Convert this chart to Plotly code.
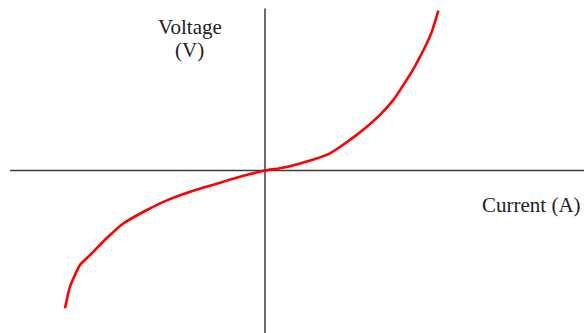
import plotly.graph_objects as go

# Values (arbitrary units; origin at axes crossing)
current = [-10.0, -9.75, -9.25, -8.75, -7.92, -7.09, -5.95, -4.88, -3.59, -2.25,
           -0.75, 0.0, 0.75, 1.67, 3.25, 4.25, 5.0, 5.75, 6.42, 6.92, 7.34,
           7.67, 8.09, 8.34, 8.67]
voltage = [-6.89, -5.81, -4.73, -4.23, -3.39, -2.65, -2.0, -1.48, -1.01, -0.61,
           -0.18, 0.0, 0.11, 0.33, 0.86, 1.53, 2.11, 2.78, 3.53, 4.28, 4.94,
           5.53, 6.36, 6.94, 7.99]

x_axis_label = "Current (A)"
y_axis_label = ["Voltage", "(V)"]

W, H = 584, 333
X_RANGE = [-13.25, 15.95]
Y_RANGE = [-8.125, 8.525]

fig = go.Figure()
fig.add_trace(go.Scatter(
    x=current, y=voltage, mode="lines",
    line=dict(color="#ff0000", width=2.6, shape="spline", smoothing=0.6),
    hoverinfo="skip", showlegend=False,
))

axis_color = "#3c3c3c"
fig.add_shape(type="line", xref="x", yref="y", x0=-12.75, x1=X_RANGE[1], y0=0, y1=0,
              line=dict(color=axis_color, width=1.5), layer="below")
fig.add_shape(type="line", xref="x", yref="y", x0=0, x1=0, y0=8.1, y1=Y_RANGE[0],
              line=dict(color=axis_color, width=1.5), layer="below")

font = dict(family="Liberation Serif, Times New Roman, serif", size=21, color="#222222")

def px(xp):
    return xp / W

def py(yp):
    return 1 - yp / H

fig.add_annotation(text=y_axis_label[0], xref="paper", yref="paper",
                   x=px(190), y=py(27), xanchor="center", yanchor="middle",
                   showarrow=False, font=font, borderpad=0)
fig.add_annotation(text=y_axis_label[1], xref="paper", yref="paper",
                   x=px(189), y=py(50), xanchor="center", yanchor="middle",
                   showarrow=False, font=font, borderpad=0)
fig.add_annotation(text=x_axis_label, xref="paper", yref="paper",
                   x=px(531.5), y=py(205), xanchor="center", yanchor="middle",
                   showarrow=False, font=font)

fig.update_layout(
    width=W, height=H,
    margin=dict(l=0, r=0, t=0, b=0),
    paper_bgcolor="white", plot_bgcolor="white",
    xaxis=dict(range=X_RANGE, visible=False, fixedrange=True),
    yaxis=dict(range=Y_RANGE, visible=False, fixedrange=True),
)

fig.write_html("out.html", config={"displayModeBar": False},
               post_script="document.body.style.margin='0';document.body.style.overflow='hidden';")
